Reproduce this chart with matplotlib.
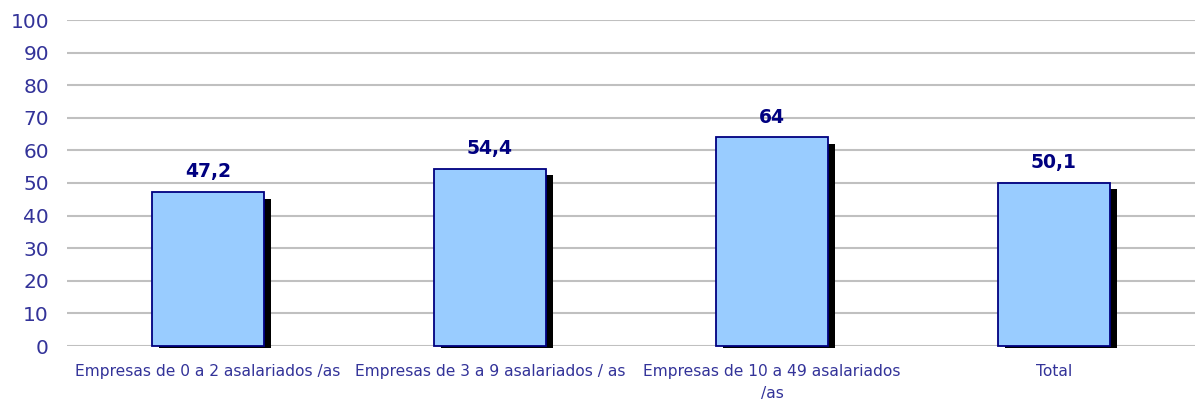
import matplotlib
matplotlib.use("Agg")
import matplotlib.pyplot as plt
import numpy as np

categories = ["Empresas de 0 a 2 asalariados /as",
              "Empresas de 3 a 9 asalariados / as",
              "Empresas de 10 a 49 asalariados\n/as",
              "Total"]
values = [47.2, 54.4, 64.0, 50.1]
value_labels = ["47,2", "54,4", "64", "50,1"]
yticks = [0, 10, 20, 30, 40, 50, 60, 70, 80, 90, 100]

plt.rcParams['font.family'] = ['Verdana', 'DejaVu Sans']

fig = plt.figure(figsize=(11.95, 4.01), dpi=100)
ax = fig.add_axes([67/1195, 1 - 346/401, 1 - 67/1195, (346 - 20)/401])

x = np.arange(len(categories))
vals = np.array(values)
w = 0.40

# shadow
ax.bar(x + 0.025, vals - 1.35, width=w, bottom=-0.7, color="black",
       zorder=2, clip_on=False)
ax.bar(x, vals, width=w, color="#99CCFF", edgecolor="#000080",
       linewidth=1.3, zorder=3, clip_on=False)

for xi, v, lab in zip(x, vals, value_labels):
    ax.text(xi, v + 3.3, lab, ha="center", va="bottom", fontsize=13.5,
            fontweight="bold", color="#000080")

ax.set_xlim(-0.5, 3.5)
ax.set_ylim(0, 100)
ax.set_yticks(yticks)
ax.set_yticklabels([str(t) for t in yticks], fontsize=14.5, color="#333399")
ax.set_xticks(x)
ax.set_xticklabels(categories, fontsize=11.2, color="#333399", linespacing=1.55)
ax.tick_params(axis="both", length=0)
ax.tick_params(axis="y", pad=13)
ax.tick_params(axis="x", pad=13)
ax.yaxis.grid(True, color="#c0c0c0", linewidth=1.5, zorder=0)
ax.set_axisbelow(True)
for s in ax.spines.values():
    s.set_visible(False)

fig.savefig("out.png", dpi=100)
